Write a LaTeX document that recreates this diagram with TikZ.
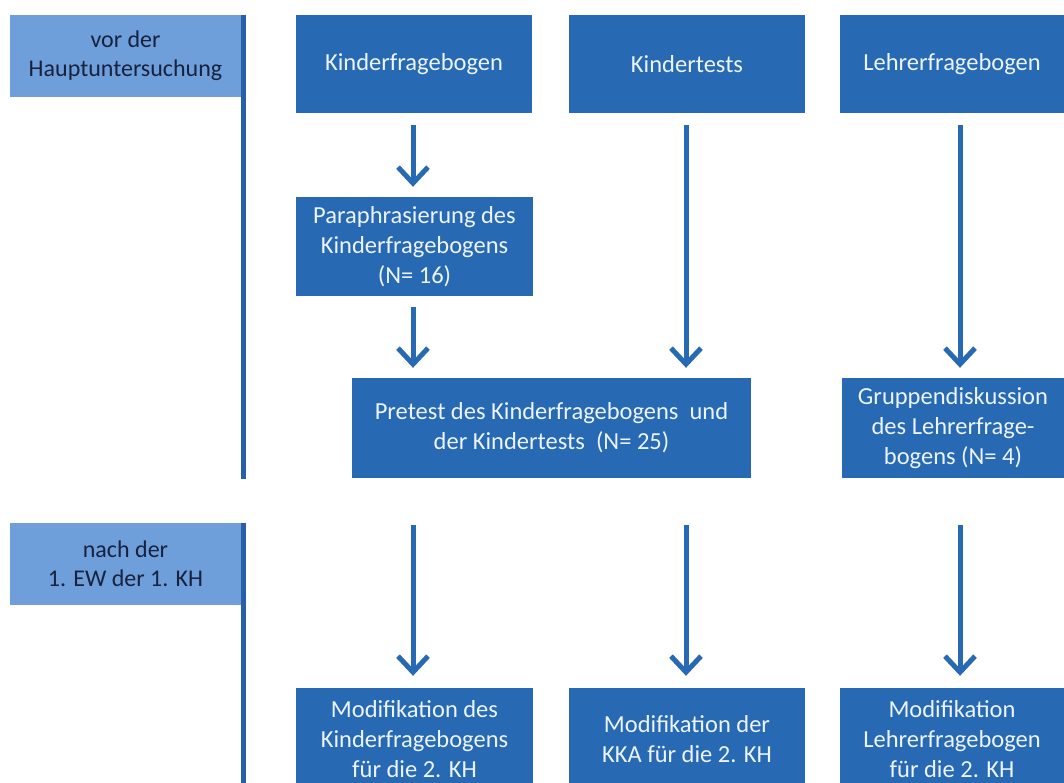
\documentclass[tikz,border=0pt]{standalone}
\usepackage{fontspec}
\setmainfont{Carlito}
\usetikzlibrary{arrows.meta,calc}
\definecolor{boxdark}{RGB}{40,105,180}
\definecolor{boxlight}{RGB}{111,159,219}
\definecolor{barcol}{RGB}{38,96,168}
\definecolor{txtlight}{RGB}{236,244,255}
\definecolor{txtdark}{RGB}{22,34,62}
\tikzset{
  darkbox/.style={fill=boxdark, text=txtlight, inner sep=0pt, align=center,
    font=\fontsize{24.5}{30}\selectfont},
  lightbox/.style={fill=boxlight, text=txtdark, inner sep=0pt, align=center,
    minimum width=231pt, minimum height=82pt, font=\fontsize{24}{29}\selectfont},
  flowarrow/.style={draw=boxdark, line width=5pt,
    -{Straight Barb[length=16pt,width=30pt,line width=5pt]}},
}
\begin{document}
\begin{tikzpicture}[x=1pt,y=-1pt]
\clip (0,0) rectangle (1064,782);
\useasboundingbox (0,0) rectangle (1064,782);
% phase labels
\node[lightbox] (lab1) at (125.5,56) {vor der\\Hauptuntersuchung};
\node[lightbox] (lab2) at (125.5,564) {nach der\\1. EW der 1. KH};
\coordinate (bar1end) at (246,479);
\coordinate (bar2end) at (246,790);
\fill[barcol] (lab1.north east) rectangle (bar1end);
\fill[barcol] (lab2.north east) rectangle (bar2end);
% top row
\node[darkbox, minimum width=236pt, minimum height=98pt] (k1) at (414,64) {Kinderfragebogen};
\node[darkbox, minimum width=236pt, minimum height=98pt] (k2) at (687,64) {Kindertests};
\node[darkbox, minimum width=224pt, minimum height=98pt] (k3) at (952,64) {Lehrerfragebogen};
% middle
\node[darkbox, minimum width=237pt, minimum height=99pt] (para) at (414.5,246.5) {Paraphrasierung des\\Kinderfragebogens\\(N= 16)};
\node[darkbox, minimum width=399pt, minimum height=100pt] (pre) at (551.5,428) {Pretest des Kinderfragebogens\ \ und\\der Kindertests\ \ (N= 25)};
\node[darkbox, minimum width=222pt, minimum height=100pt] (grp) at (953,428) {Gruppendiskussion\\des Lehrerfrage-\\bogens (N= 4)};
% bottom
\node[darkbox, minimum width=237pt, minimum height=102pt] (b1) at (414.5,739) {Modifikation des\\Kinderfragebogens\\für die 2. KH};
\node[darkbox, minimum width=236pt, minimum height=102pt] (b2) at (687,739) {Modifikation der\\KKA für die 2. KH};
\node[darkbox, minimum width=224pt, minimum height=102pt] (b3) at (952,739) {Modifikation\\Lehrerfragebogen\\für die 2. KH};
% column x positions
\coordinate (c1) at (413,0);
\coordinate (c2) at (686,0);
\coordinate (c3) at (960,0);
% arrows
\draw[flowarrow, shorten <=12pt, shorten >=10pt] (k1.south -| c1) -- (para.north -| c1);
\draw[flowarrow, shorten <=11pt, shorten >=10pt] (para.south -| c1) -- (pre.north -| c1);
\draw[flowarrow, shorten <=12pt, shorten >=10pt] (k2.south -| c2) -- (pre.north -| c2);
\draw[flowarrow, shorten <=12pt, shorten >=10pt] (k3.south -| c3) -- (grp.north -| c3);
\draw[flowarrow, shorten <=47pt, shorten >=12pt] (pre.south -| c1) -- (b1.north -| c1);
\draw[flowarrow, shorten <=47pt, shorten >=12pt] (pre.south -| c2) -- (b2.north -| c2);
\draw[flowarrow, shorten <=47pt, shorten >=12pt] (grp.south -| c3) -- (b3.north -| c3);
\end{tikzpicture}
\end{document}
